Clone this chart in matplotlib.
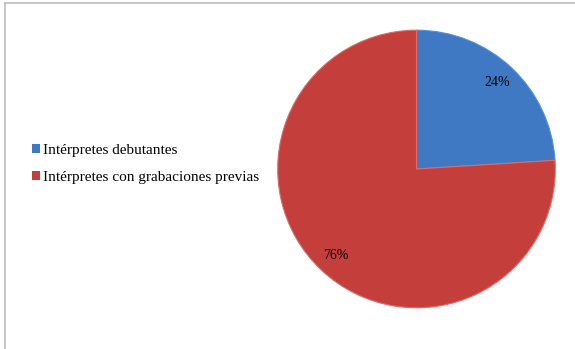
import matplotlib.pyplot as plt
from matplotlib.lines import Line2D

labels = ['Intérpretes debutantes', 'Intérpretes con grabaciones previas']
values = [24, 76]
colors = ['#3f78c3', '#c43f3c']

plt.rcParams['font.family'] = 'serif'
plt.rcParams['font.serif'] = ['Liberation Serif', 'DejaVu Serif']

fig = plt.figure(figsize=(5.75, 3.49), dpi=100)

# frame line (top and left only visible)
fig.add_artist(Line2D([5/575, 5/575], [0, 1 - 3/349], color='#bdbdbd', lw=1.2))
fig.add_artist(Line2D([5/575, 1], [1 - 3/349, 1 - 3/349], color='#bdbdbd', lw=1.2))

ax = fig.add_axes([277/575, 40.5/349, 279/575, 279/349])
wedges, texts, autotexts = ax.pie(values, colors=colors, startangle=90, counterclock=False,
                                  autopct='%d%%', pctdistance=0.85,
                                  wedgeprops=dict(edgecolor='#e06a66', linewidth=0.8),
                                  textprops=dict(fontsize=10, color='black'))
wedges[0].set_edgecolor('#5a8fd6')
ax.set_xlim(-1.005, 1.005)
ax.set_ylim(-1.005, 1.005)
ax.set_aspect('equal')

handles = [plt.Rectangle((0, 0), 1, 1, facecolor=c, edgecolor='none') for c in colors]
fig.legend(handles, labels, loc='upper left', bbox_to_anchor=(32/575, 1 - 144/349),
           frameon=False, fontsize=11, handlelength=0.55, handleheight=0.55,
           handletextpad=0.15, labelspacing=0.9, borderaxespad=0, borderpad=0)

fig.savefig('out.png', dpi=100)
